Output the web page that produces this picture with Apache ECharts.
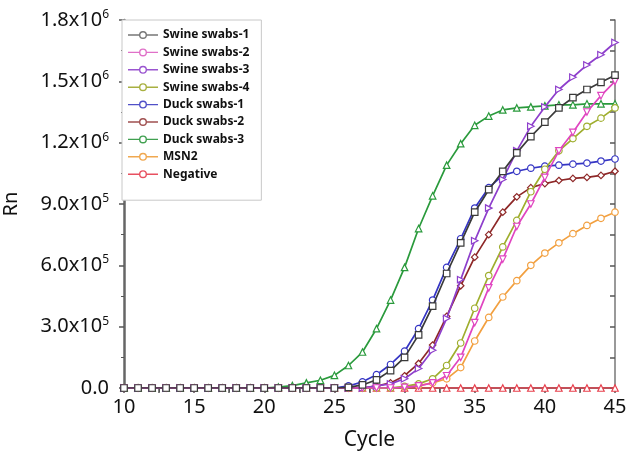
<!DOCTYPE html>
<html><head><meta charset="utf-8">
<script src="https://cdn.jsdelivr.net/npm/echarts@6/dist/echarts.min.js"></script>
<style>html,body{margin:0;padding:0;background:#fff}#c{width:626px;height:456px}</style>
</head><body><div id="c"></div>
<script>
// cycles 10..45
const cycles = [10,11,12,13,14,15,16,17,18,19,20,21,22,23,24,25,26,27,28,29,30,31,32,33,34,35,36,37,38,39,40,41,42,43,44,45];
// values in units of 1e5 Rn
const swine1 = [0,0,0,0,0,0,0,0,0,0,0,0,0,0,0,0,0.03,0.15,0.4,0.85,1.5,2.6,4.0,5.6,7.1,8.6,9.7,10.6,11.5,12.3,13.0,13.7,14.2,14.6,14.95,15.3];
const swine2 = [0,0,0,0,0,0,0,0,0,0,0,0,0,0,0,0,0,0,0,0,0.03,0.1,0.25,0.6,1.5,3.2,4.9,6.3,7.9,9.0,10.3,11.6,12.5,13.5,14.3,15.0];
const swine3 = [0,0,0,0,0,0,0,0,0,0,0,0,0,0,0,0,0,0,0.1,0.2,0.45,0.95,1.85,3.4,5.3,7.2,8.8,10.2,11.6,12.8,13.75,14.6,15.2,15.8,16.3,16.9];
const swine4 = [0,0,0,0,0,0,0,0,0,0,0,0,0,0,0,0,0,0,0,0,0.08,0.2,0.45,1.1,2.2,3.9,5.5,6.9,8.2,9.6,10.7,11.6,12.2,12.8,13.2,13.7];
const duck1 = [0,0,0,0,0,0,0,0,0,0,0,0,0,0,0,0,0.1,0.3,0.65,1.15,1.8,2.9,4.3,5.9,7.3,8.8,9.8,10.4,10.6,10.75,10.85,10.9,10.95,11.0,11.1,11.2];
const duck2 = [0,0,0,0,0,0,0,0,0,0,0,0,0,0,0,0,0,0,0.1,0.25,0.6,1.2,2.1,3.5,5.0,6.4,7.5,8.6,9.35,9.8,10.0,10.15,10.25,10.3,10.4,10.6];
const duck3 = [0,0,0,0,0,0,0,0,0,0,0,0.05,0.12,0.25,0.38,0.62,1.1,1.76,2.9,4.3,5.9,7.8,9.4,10.9,11.95,12.85,13.3,13.6,13.7,13.75,13.8,13.85,13.85,13.9,13.9,13.9];
const msn2 = [0,0,0,0,0,0,0,0,0,0,0,0,0,0,0,0,0,0,0,0,0.05,0.12,0.25,0.45,1.0,2.3,3.45,4.45,5.25,6.0,6.6,7.1,7.55,7.95,8.3,8.6];
const negative = [0,0,0,0,0,0,0,0,0,0,0,0,0,0,0,0,0,0,0,0,0,0,0,0,0,0,0,0,0,0,0,0,0,0,0,0];

const seriesNames = ['Swine swabs-1','Swine swabs-2','Swine swabs-3','Swine swabs-4','Duck swabs-1','Duck swabs-2','Duck swabs-3','MSN2','Negative'];
const seriesData = [swine1, swine2, swine3, swine4, duck1, duck2, duck3, msn2, negative];
const colors = ['#3a3a3a','#e045c0','#8e3fcc','#9fae2e','#3535c4','#8e2828','#2a9a3c','#f2a040','#e8414e'];
const legendColors = ['#777777','#e070c8','#9a55d0','#a8b040','#5050c8','#a05050','#40a050','#f0a850','#e85060'];
const symbols = ['rect','triangle','triangle','circle','circle','diamond','triangle','circle','triangle'];
const rotates = [0,180,-90,0,0,0,0,0,0];
// y tick labels (value in 1e5 units -> label)
const yTickMant = {0:'0.0',3:'3.0x10',6:'6.0x10',9:'9.0x10',12:'1.2x10',15:'1.5x10',18:'1.8x10'};
const yTickExp = {0:'',3:'5',6:'5',9:'5',12:'6',15:'6',18:'6'};

const font = 'Noto Sans';
const legendIcon = 'path://M0,4.3 H11.2 V5.7 H0 Z M18.8,4.3 H30 V5.7 H18.8 Z M15,1 A4,4 0 1,1 14.99,1 Z M15,2.4 A2.6,2.6 0 1,0 15.01,2.4 Z';
const chart = echarts.init(document.getElementById('c'), null, {renderer:'canvas'});
const series = seriesNames.map((n,i)=>({
  name:n, type:'line', xAxisIndex:0, yAxisIndex:0,
  data: cycles.map((c,j)=>[c, seriesData[i][j]]),
  symbol: symbols[i], symbolRotate: rotates[i], symbolSize: 6.5,
  showAllSymbol:true,
  itemStyle:{color:'#fff', borderColor: colors[i], borderWidth:1.2},
  lineStyle:{color: colors[i], width:1.7},
  z: 2 + (8-i)
}));
chart.setOption({
  animation:false,
  textStyle:{fontFamily:font},
  grid:{left:124, right:11, top:20, bottom:68, containLabel:false, outerBoundsMode:'none'},
  legend:{
    orient:'vertical', left:122, top:20,
    padding:[9,12,20,6], itemGap:5.4, itemWidth:30, itemHeight:10,
    borderColor:'#c8c8c8', borderWidth:1, backgroundColor:'#fff',
    textStyle:{fontFamily:font, fontWeight:'bold', fontSize:12, color:'#111'},
    data: seriesNames.map((n,i)=>({name:n, icon:legendIcon, itemStyle:{color:legendColors[i], borderWidth:0}}))
  },
  xAxis:[{
    type:'value', min:10, max:45, interval:5,
    name:'Cycle', nameLocation:'middle', nameGap:42,
    nameTextStyle:{fontSize:21, color:'#111', fontFamily:font},
    axisLine:{show:true, lineStyle:{color:'#666', width:2}},
    axisTick:{show:true, length:4, lineStyle:{color:'#555'}},
    minorTick:{show:true, splitNumber:2, length:4, lineStyle:{color:'#555'}},
    splitLine:{show:false},
    axisLabel:{fontSize:20, color:'#111', margin:9, fontFamily:font}
  },{
    type:'value', min:10, max:45, interval:2.5, position:'top',
    axisLine:{show:true, lineStyle:{color:'#777', width:1.5}},
    axisTick:{show:true, inside:true, length:5, lineStyle:{color:'#555', width:1.5}},
    axisLabel:{show:false}, splitLine:{show:false}
  }],
  yAxis:[{
    type:'value', min:0, max:18, interval:3,
    name:'Rn', nameLocation:'middle', nameGap:103, nameRotate:90,
    nameTextStyle:{fontSize:20, color:'#111', fontFamily:font},
    axisLine:{show:true, lineStyle:{color:'#666', width:2.5}},
    axisTick:{show:true, length:5, lineStyle:{color:'#555', width:1.5}},
    minorTick:{show:true, splitNumber:2, length:3, lineStyle:{color:'#555'}},
    splitLine:{show:false},
    axisLabel:{
      margin:15, color:'#111', fontFamily:font,
      formatter:(v)=>{ const m=yTickMant[v]; const e=yTickExp[v]; return e ? '{a|'+m+'}{s|'+e+'}' : '{a|'+m+'}'; },
      rich:{a:{fontSize:20, color:'#111', fontFamily:font}, s:{fontSize:12, color:'#111', fontFamily:font, padding:[0,0,11,0]}}
    }
  },{
    type:'value', min:0, max:18, interval:1.5, position:'right',
    axisLine:{show:true, lineStyle:{color:'#777', width:1.5}},
    axisTick:{show:true, inside:true, length:5, lineStyle:{color:'#555', width:1.5}},
    axisLabel:{show:false}, splitLine:{show:false}
  }],
  series: series
});
</script></body></html>
